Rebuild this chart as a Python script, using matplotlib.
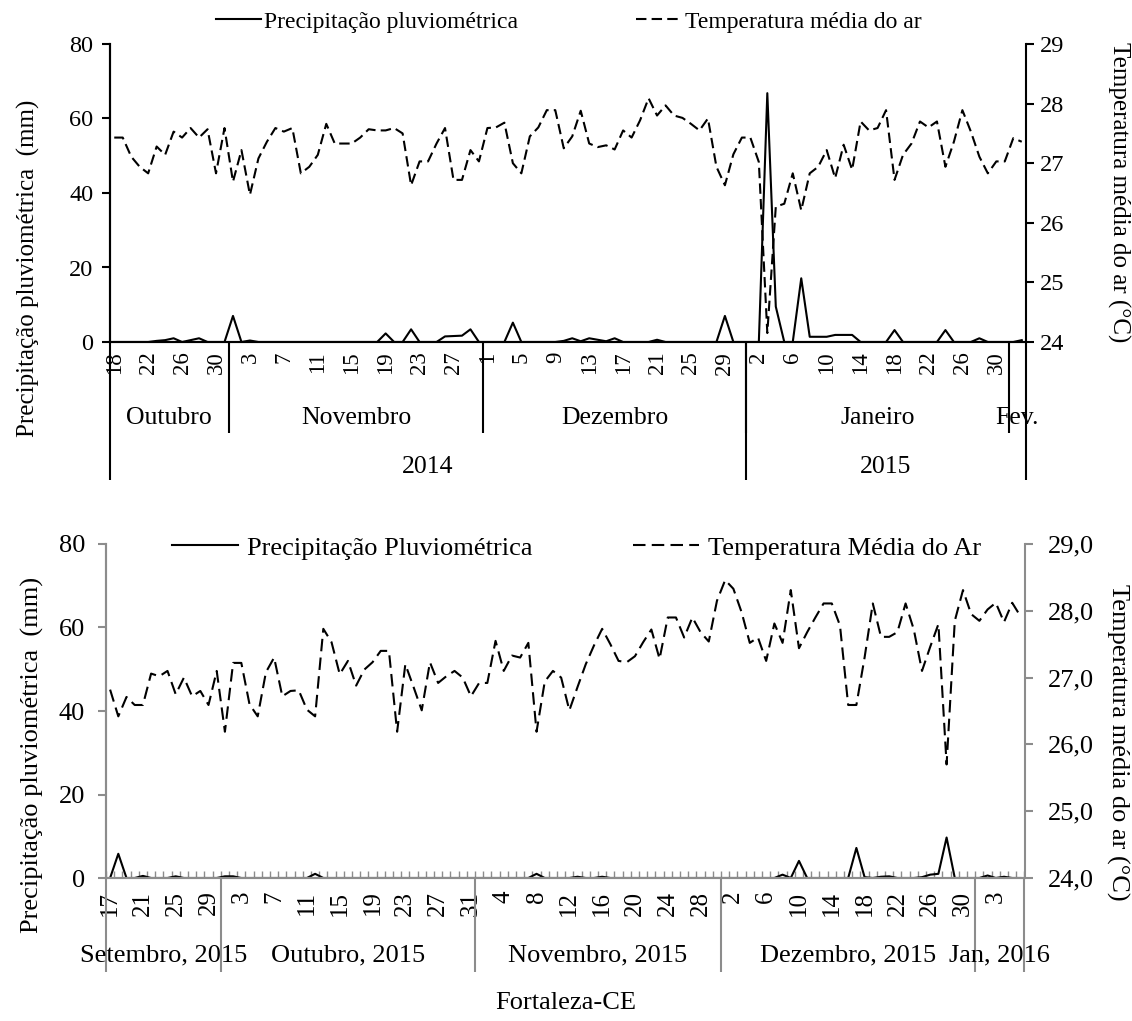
import datetime as dt
import numpy as np
import matplotlib
matplotlib.use('Agg')
import matplotlib.pyplot as plt
import matplotlib.transforms as mtransforms

plt.rcParams['font.family'] = ['Liberation Serif', 'DejaVu Serif']

# ── Daily series, 2014/15 (from 18 Oct 2014) ─────────────────────────────────
START_A = dt.date(2014, 10, 18)
precip_a = [0, 0, 0, 0, 0, 0.3, 0.5, 1.0, 0, 0.5, 1.0, 0, 0, 0,
            7.0, 0, 0.4, 0, 0, 0, 0, 0, 0, 0, 0, 0, 0, 0, 0, 0,
            0, 0, 2.3, 0, 0, 3.4, 0, 0, 0, 1.5, 1.6, 1.7, 3.4, 0,
            0, 0, 0, 5.2, 0, 0, 0, 0, 0, 0.3, 1.0, 0.2, 1.0, 0.6, 0.2, 1.0,
            0, 0, 0, 0, 0.6, 0, 0, 0, 0, 0, 0, 0, 7.0, 0, 0,
            0, 0, 66.8, 9.5, 0, 0, 17.1, 1.4, 1.4, 1.4, 1.9, 1.9, 1.9, 0, 0,
            0, 0, 3.2, 0, 0, 0, 0, 0, 3.2, 0, 0, 0, 1.0, 0, 0, 0,
            0, 0.5]
temp_a = [27.43, 27.43, 27.11, 26.94, 26.83, 27.28, 27.14, 27.53, 27.43, 27.59,
          27.43, 27.57, 26.83, 27.59,
          26.69, 27.22, 26.47, 27.08, 27.36, 27.59, 27.53, 27.59, 26.83, 26.94,
          27.14, 27.66, 27.33, 27.33, 27.33, 27.43, 27.57, 27.55, 27.55, 27.59,
          27.50, 26.63, 27.03, 27.03, 27.33, 27.59, 26.72, 26.72, 27.22, 27.03,
          27.59, 27.60, 27.68, 27.00, 26.83, 27.45, 27.60, 27.89, 27.89, 27.25,
          27.45, 27.88, 27.33, 27.27, 27.30, 27.23, 27.55, 27.43, 27.72, 28.09,
          27.80, 27.97, 27.80, 27.76, 27.66, 27.55, 27.75, 26.94, 26.63, 27.15,
          27.43,
          27.43, 27.02, 24.15, 26.27, 26.32, 26.83, 26.21, 26.83, 26.94, 27.22,
          26.75, 27.31, 26.89, 27.70, 27.55, 27.59, 27.89, 26.72, 27.14, 27.33,
          27.70, 27.60, 27.70, 26.94, 27.36, 27.89, 27.53, 27.11, 26.83, 27.03,
          27.03,
          27.42, 27.36]
months_a = ['Outubro', 'Novembro', 'Dezembro', 'Janeiro', 'Fev.']
years_a = ['2014', '2015']
legend_a = ['Precipitação pluviométrica', 'Temperatura média do ar']

# ── Daily series, 2015/16 (from 17 Sep 2015) ─────────────────────────────────
START_B = dt.date(2015, 9, 17)
precip_b = [0, 5.8, 0, 0, 0.5, 0, 0, 0, 0.4, 0, 0, 0, 0, 0,
            0.4, 0.4, 0, 0, 0, 0, 0, 0, 0, 0, 0, 1.0, 0, 0, 0, 0,
            0, 0, 0, 0, 0, 0, 0, 0, 0, 0, 0, 0, 0, 0, 0,
            0, 0, 0, 0, 0, 0, 0, 1.0, 0, 0, 0, 0, 0.3, 0, 0,
            0.3, 0, 0, 0, 0, 0, 0, 0, 0, 0, 0, 0, 0, 0, 0,
            0, 0, 0, 0, 0, 0, 0, 0.8, 0, 4.1, 0, 0, 0, 0, 0,
            0, 7.2, 0.2, 0, 0.3, 0.4, 0, 0, 0, 0.2, 0.8, 1.0, 9.7, 0, 0,
            0,
            0, 0.6, 0, 0.3, 0, 0]
temp_b = [26.82, 26.42, 26.71, 26.59, 26.59, 27.06, 27.02, 27.10, 26.75, 27.00,
          26.72, 26.80, 26.59, 27.10,
          26.19, 27.22, 27.22, 26.60, 26.42, 27.08, 27.30, 26.72, 26.80, 26.81,
          26.52, 26.42, 27.73, 27.53, 27.05, 27.25, 26.88, 27.12, 27.23, 27.40,
          27.40, 26.19, 27.20, 26.86, 26.51, 27.23, 26.92, 27.02, 27.10, 27.00,
          26.72,
          26.92, 26.92, 27.55, 27.10, 27.33, 27.30, 27.52, 26.19, 26.94, 27.10,
          27.00, 26.51, 26.86, 27.20, 27.48, 27.73, 27.50, 27.25, 27.23, 27.32,
          27.53, 27.72, 27.28, 27.90, 27.90, 27.60, 27.90, 27.68, 27.54, 28.15,
          28.46, 28.33, 27.98, 27.52, 27.60, 27.25, 27.81, 27.52, 28.31, 27.44,
          27.68, 27.90, 28.11, 28.11, 27.78, 26.59, 26.59, 27.30, 28.11, 27.61,
          27.61, 27.68, 28.11, 27.72, 27.10, 27.46, 27.80, 25.70, 27.85, 28.31,
          27.95,
          27.85, 28.02, 28.12, 27.83, 28.12, 27.92]
months_b = ['Setembro, 2015', 'Outubro, 2015', 'Novembro, 2015',
            'Dezembro, 2015', 'Jan, 2016']
legend_b = ['Precipitação Pluviométrica', 'Temperatura Média do Ar']

Y_LEFT = 'Precipitação pluviométrica  (mm)'
Y_RIGHT = 'Temperatura média do ar (°C)'

# ── Canvas ────────────────────────────────────────────────────────────────────
W, H, DPI = 1132, 1021, 100
fig = plt.figure(figsize=(W / DPI, H / DPI), dpi=DPI)
fig.patch.set_facecolor('white')


def box(l, t, r, b):
    """Pixel box (left, top, right, bottom) -> figure fraction rect."""
    return [l / W, 1 - b / H, (r - l) / W, (b - t) / H]


def day_list(start, n):
    return [start + dt.timedelta(days=i) for i in range(n)]


def groups(days, key):
    """(first, stop) index pairs for runs of equal key(day)."""
    out, s = [], 0
    for i in range(1, len(days) + 1):
        if i == len(days) or key(days[i]) != key(days[s]):
            out.append((s, i))
            s = i
    return out


def sep(ax, x, depth, color, lw):
    tr = mtransforms.blended_transform_factory(ax.transData, ax.transAxes)
    ax.plot([x, x], [0, -depth], transform=tr, clip_on=False,
            color=color, lw=lw, solid_capstyle='butt')


def label(ax, x, y, s, size):
    tr = mtransforms.blended_transform_factory(ax.transData, ax.transAxes)
    ax.text(x, y, s, transform=tr, ha='center', va='center', fontsize=size)


# ── Top chart ─────────────────────────────────────────────────────────────────
days_a = day_list(START_A, len(precip_a))
xa = np.arange(len(days_a))
ax1 = fig.add_axes(box(110, 44, 1026, 342))
ax1r = ax1.twinx()
ln_pa, = ax1.plot(xa, precip_a, color='black', lw=1.5)
ln_ta, = ax1r.plot(xa, temp_a, color='black', lw=1.5, dashes=(5, 2.5))

ax1.set_xlim(-0.5, len(xa) - 0.5)
ax1.set_ylim(0, 80)
ax1.set_yticks(range(0, 81, 20))
ax1r.set_ylim(24, 29)
ax1r.set_yticks(range(24, 30))
ax1.set_xticks(xa[::4])
ax1.set_xticklabels([str(d.day) for d in days_a[::4]], rotation=90)
ax1.tick_params(axis='x', length=0, pad=7, labelsize=16.5)
ax1.tick_params(axis='y', direction='out', length=6, width=1.5, pad=6, labelsize=17.5)
ax1r.tick_params(axis='y', direction='out', length=6, width=1.5, pad=4, labelsize=17.5)
for a in (ax1, ax1r):
    a.spines['top'].set_visible(False)
    for s in a.spines.values():
        s.set_linewidth(1.5)
        s.set_color('black')
ax1.spines['right'].set_visible(False)

# month / year category bands under the axis
h_a = 342 - 44
mg_a = groups(days_a, lambda d: d.month)
for s, e in mg_a[:-1]:
    sep(ax1, e - 0.5, (433 - 342) / h_a, 'black', 1.5)
for name, (s, e) in zip(months_a, mg_a):
    label(ax1, (s + e - 1) / 2, -(418 - 342) / h_a, name, 18.5)
yg_a = groups(days_a, lambda d: d.year)
for s, e in yg_a:
    sep(ax1, s - 0.5, (480 - 342) / h_a, 'black', 1.5)
sep(ax1, yg_a[-1][1] - 0.5, (480 - 342) / h_a, 'black', 1.5)
for name, (s, e) in zip(years_a, yg_a):
    label(ax1, (s + e - 1) / 2, -(467 - 342) / h_a, name, 18.5)

fig.legend([ln_pa, ln_ta], legend_a, loc='center left',
           bbox_to_anchor=(216 / W, 1 - 22 / H), ncol=2, frameon=False,
           fontsize=17, handlelength=1.9, handletextpad=0.15,
           columnspacing=5.0, borderpad=0, borderaxespad=0)

fig.text(28 / W, 1 - 268 / H, Y_LEFT, rotation=90, ha='center', va='center', fontsize=18)
fig.text(1119 / W, 1 - 192 / H, Y_RIGHT, rotation=270, ha='center', va='center', fontsize=18)

# ── Bottom chart ──────────────────────────────────────────────────────────────
GREY = '#8c8c8c'
days_b = day_list(START_B, len(precip_b))
xb = np.arange(len(days_b))
ax2 = fig.add_axes(box(106, 544, 1024.5, 878))
ax2r = ax2.twinx()
ln_pb, = ax2.plot(xb, precip_b, color='black', lw=1.5)
ln_tb, = ax2r.plot(xb, temp_b, color='black', lw=1.5, dashes=(6, 3))

ax2.set_xlim(-0.5, len(xb) - 0.5)
ax2.set_ylim(0, 80)
ax2.set_yticks(range(0, 81, 20))
ax2r.set_ylim(24, 29)
ax2r.set_yticks(range(24, 30))
ax2r.set_yticklabels([f'{v:.1f}'.replace('.', ',') for v in range(24, 30)])
ax2.set_xticks(xb[::4])
ax2.set_xticklabels([str(d.day) for d in days_b[::4]], rotation=90)
ax2.set_xticks(np.arange(-0.5, len(xb)), minor=True)
ax2.tick_params(axis='x', which='major', length=0, pad=9, labelsize=18)
ax2.tick_params(axis='x', which='minor', direction='in', length=5, width=1, color=GREY)
ax2.tick_params(axis='y', direction='out', length=6, width=1.5, color=GREY, pad=9, labelsize=19)
ax2r.tick_params(axis='y', direction='out', length=6, width=1.5, color=GREY, pad=11, labelsize=19)
for a in (ax2, ax2r):
    a.spines['top'].set_visible(False)
    for s in a.spines.values():
        s.set_linewidth(1.5)
        s.set_color(GREY)
ax2.spines['right'].set_visible(False)

h_b = 878 - 544
mg_b = groups(days_b, lambda d: d.month)
for s, e in mg_b:
    sep(ax2, s - 0.5, (972 - 878) / h_b, GREY, 1.5)
sep(ax2, mg_b[-1][1] - 0.5, (972 - 878) / h_b, GREY, 1.5)
for name, (s, e) in zip(months_b, mg_b):
    label(ax2, (s + e - 1) / 2, -(955 - 878) / h_b, name, 19)

fig.legend([ln_pb, ln_tb], legend_b, loc='center left',
           bbox_to_anchor=(172 / W, 1 - 548 / H), ncol=2, frameon=False,
           fontsize=19, handlelength=2.5, handletextpad=0.35,
           columnspacing=3.8, borderpad=0, borderaxespad=0)

fig.text(32 / W, 1 - 755 / H, Y_LEFT, rotation=90, ha='center', va='center', fontsize=19)
fig.text(1118 / W, 1 - 742 / H, Y_RIGHT, rotation=270, ha='center', va='center', fontsize=19)
fig.text(566 / W, 1 - 1003 / H, 'Fortaleza-CE', ha='center', va='center', fontsize=19)

fig.savefig('out.png', dpi=DPI, facecolor='white')
